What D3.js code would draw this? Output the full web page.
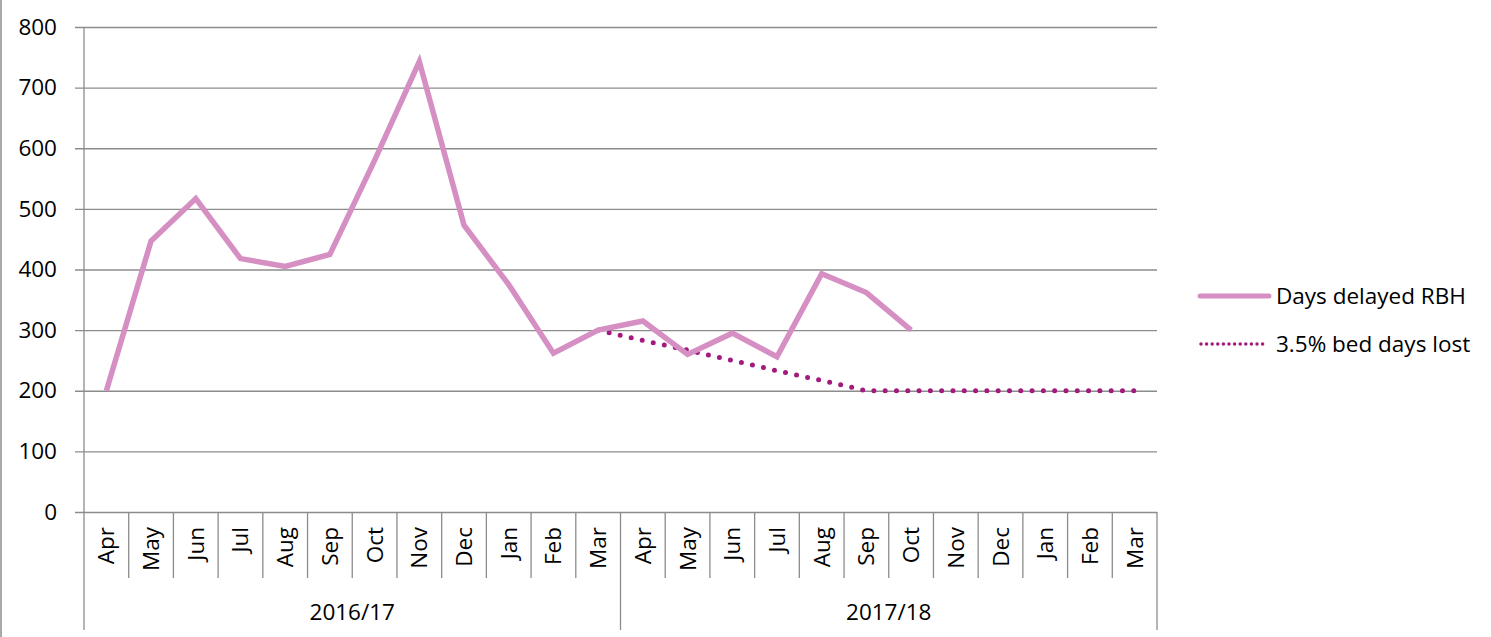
<!DOCTYPE html>
<html>
<head>
<meta charset="utf-8">
<script src="https://cdn.jsdelivr.net/npm/d3@7"></script>
<style>
  body { margin: 0; background: #fff; }
  text { font-family: "Open Sans", "Noto Sans", sans-serif; fill: #000; }
</style>
</head>
<body>
<svg id="grafico"></svg>
<script>
const meses = ['Apr','May','Jun','Jul','Aug','Sep','Oct','Nov','Dec','Jan','Feb','Mar',
               'Apr','May','Jun','Jul','Aug','Sep','Oct','Nov','Dec','Jan','Feb','Mar'];
const anos = ['2016/17', '2017/18'];
const diasAtrasados = [200, 447, 517, 418, 405, 425, 580, 743, 473, 375, 262, 300,
                       315, 260, 295, 256, 393, 362, 300];
const leitosPerdidos = [null, null, null, null, null, null, null, null, null, null, null, 300,
                        283, 267, 250, 233, 217, 200, 200, 200, 200, 200, 200, 200];
const ticksY = [0, 100, 200, 300, 400, 500, 600, 700, 800];
const nomesSeries = ['Days delayed RBH', '3.5% bed days lost'];

const largura = 1491, altura = 637;
const esq = 84, dir = 1157, topo = 27, base = 512;
const corRosa = '#d58fc3', corRoxo = '#a3197e', corGrade = '#8c8c8c';
const tamFonte = '22.5px';

let svg = d3.select('#grafico')
  .attr('width', largura + 'px')
  .attr('height', altura + 'px');

// borda esquerda do gráfico
svg.append('line')
  .attr('x1', 1).attr('x2', 1).attr('y1', 0).attr('y2', altura)
  .attr('stroke', corGrade).attr('stroke-width', 1.5);

let fnX = d3.scaleBand()
  .domain(d3.range(meses.length))
  .range([esq, dir]);

let fnY = d3.scaleLinear()
  .domain([0, 800])
  .range([base, topo]);

// grade horizontal + rótulos do eixo Y
let eixoY = d3.axisLeft(fnY)
  .tickValues(ticksY)
  .tickSize(-(dir - esq))
  .tickPadding(27);
let gY = svg.append('g')
  .attr('transform', 'translate(' + esq + ',0)')
  .call(eixoY);
gY.select('.domain').remove();
gY.selectAll('.tick line')
  .attr('stroke', corGrade).attr('stroke-width', 1.3)
  .attr('x1', -9);
gY.selectAll('.tick text')
  .attr('font-size', tamFonte)
  .style('font-family', '"Open Sans", sans-serif');

// linha do eixo Y
svg.append('line')
  .attr('x1', esq).attr('x2', esq).attr('y1', topo).attr('y2', 630)
  .attr('stroke', corGrade).attr('stroke-width', 1.3);

// divisões entre meses
svg.selectAll('.divMes')
  .data(d3.range(1, meses.length))
  .enter()
  .append('line')
  .attr('x1', d => fnX(d)).attr('x2', d => fnX(d))
  .attr('y1', base)
  .attr('y2', d => d % 12 === 0 ? 630 : 578)
  .attr('stroke', corGrade).attr('stroke-width', 1.3);

svg.append('line')
  .attr('x1', dir).attr('x2', dir).attr('y1', base).attr('y2', 630)
  .attr('stroke', corGrade).attr('stroke-width', 1.3);

// rótulos dos meses
svg.selectAll('.rotuloMes')
  .data(meses)
  .enter()
  .append('text')
  .attr('transform', (d, i) => 'translate(' + (fnX(i) + fnX.bandwidth() / 2 + 8) + ',' + 527 + ') rotate(-90)')
  .attr('text-anchor', 'end')
  .attr('font-size', tamFonte)
  .text(d => d);

// rótulos dos anos
svg.selectAll('.rotuloAno')
  .data(anos)
  .enter()
  .append('text')
  .attr('x', (d, i) => (fnX(i * 12) + fnX(i * 12 + 11) + fnX.bandwidth()) / 2)
  .attr('y', 620)
  .attr('text-anchor', 'middle')
  .attr('font-size', tamFonte)
  .text(d => d);

let cx = i => fnX(i) + fnX.bandwidth() / 2;

// série pontilhada
let linhaPerdidos = d3.line()
  .defined(d => d !== null)
  .x((d, i) => cx(i))
  .y(d => fnY(d));

svg.append('path')
  .datum(leitosPerdidos)
  .attr('d', linhaPerdidos)
  .attr('fill', 'none')
  .attr('stroke', corRoxo)
  .attr('stroke-width', 5)
  .attr('stroke-linecap', 'round')
  .attr('stroke-dasharray', '0,11.3');

// série principal
let linhaAtraso = d3.line()
  .x((d, i) => cx(i))
  .y(d => fnY(d));

svg.append('path')
  .datum(diasAtrasados)
  .attr('d', linhaAtraso)
  .attr('fill', 'none')
  .attr('stroke', corRosa)
  .attr('stroke-width', 5.5)
  .attr('stroke-linejoin', 'miter');

// legenda
let legenda = svg.append('g');
legenda.append('line')
  .attr('x1', 1200).attr('x2', 1269).attr('y1', 296).attr('y2', 296)
  .attr('stroke', corRosa).attr('stroke-width', 5).attr('stroke-linecap', 'round');
legenda.append('line')
  .attr('x1', 1201).attr('x2', 1268).attr('y1', 344).attr('y2', 344)
  .attr('stroke', corRoxo).attr('stroke-width', 3.5)
  .attr('stroke-linecap', 'round').attr('stroke-dasharray', '0,5.6');
legenda.selectAll('.rotuloLeg')
  .data(nomesSeries)
  .enter()
  .append('text')
  .attr('x', 1276)
  .attr('y', (d, i) => 296 + i * 48)
  .attr('dy', '0.35em')
  .attr('font-size', tamFonte)
  .text(d => d);
</script>
</body>
</html>
